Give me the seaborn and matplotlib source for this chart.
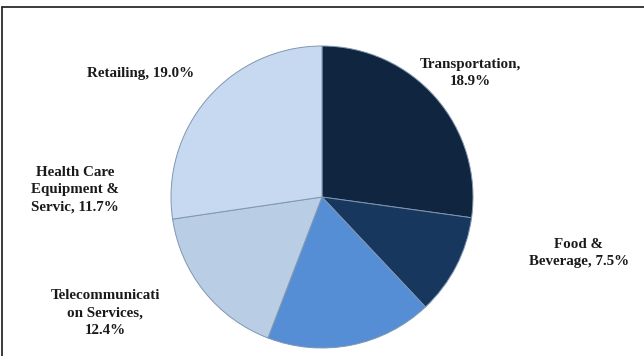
import matplotlib
matplotlib.use("Agg")
import matplotlib.pyplot as plt
from matplotlib.lines import Line2D
import seaborn as sns

# Industry shares (clockwise from 12 o'clock)
sectors = ["Transportation", "Food &\nBeverage", "Telecommunicati\non Services",
           "Health Care\nEquipment &\nServic", "Retailing"]
shares = [18.9, 7.5, 12.4, 11.7, 19.0]
separators = [",\n", ", ", ",\n", ", ", ", "]
colors = ["#10253F", "#17375E", "#558ED5", "#B9CDE5", "#C6D9F1"]

sns.set_theme(style="white")
plt.rcParams["font.family"] = ["Liberation Serif", "DejaVu Serif"]

W, H = 644, 356
fig = plt.figure(figsize=(W / 100, H / 100), dpi=100)
ax = fig.add_axes([0, 0, 1, 1])

ax.pie(shares, colors=colors, startangle=90, counterclock=False,
       center=(322, H - 197), radius=151, frame=True,
       wedgeprops=dict(edgecolor="#8096B0", linewidth=0.7))
ax.set_xlim(0, W)
ax.set_ylim(0, H)
ax.set_aspect("equal")
ax.axis("off")

# label anchor points (pixel positions, y measured from top)
label_pos = [(470, 73), (579, 253), (105, 313), (75, 190), (141, 73)]
for name, val, sep, (lx, ly) in zip(sectors, shares, separators, label_pos):
    ax.text(lx, H - ly, f"{name}{sep}{val:.1f}%", ha="center", va="center",
            fontsize=10.8, fontweight="bold", color="#1a1a1a", linespacing=1.42)

# chart-area border (top and left edges)
fig.add_artist(Line2D([2 / W, 1], [1 - 7 / H, 1 - 7 / H], transform=fig.transFigure,
                      color="#2b2b2b", linewidth=1.3))
fig.add_artist(Line2D([2 / W, 2 / W], [0, 1 - 7 / H], transform=fig.transFigure,
                      color="#2b2b2b", linewidth=1.3))

fig.savefig("out.png", dpi=100, facecolor="white")
